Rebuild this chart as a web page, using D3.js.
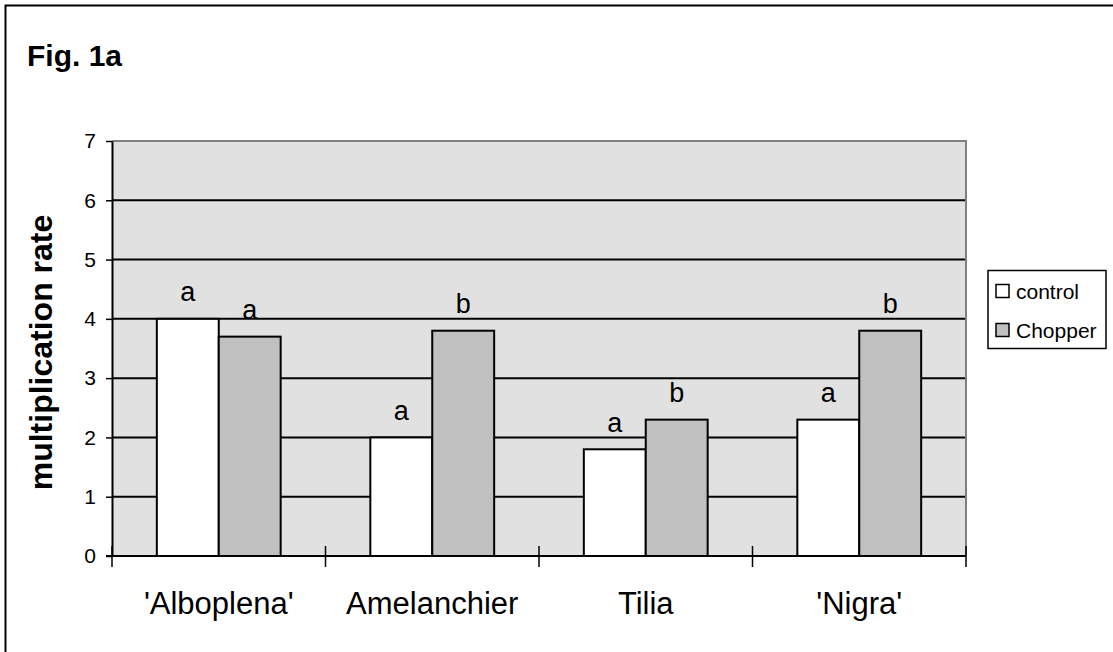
<!DOCTYPE html>
<html>
<head>
<meta charset="utf-8">
<script src="https://cdn.jsdelivr.net/npm/d3@7"></script>
<style>
  html, body { margin: 0; padding: 0; background: #fff; }
  svg { display: block; font-family: "Liberation Sans", Arial, sans-serif; }
</style>
</head>
<body>
<svg id="chart" width="1113" height="652"></svg>
<script>
const categories = ["'Alboplena'", "Amelanchier", "Tilia", "'Nigra'"];
const seriesNames = ["control", "Chopper"];
const controlValues = [4.0, 2.0, 1.8, 2.3];
const chopperValues = [3.7, 3.8, 2.3, 3.8];
const controlLetters = ["a", "a", "a", "a"];
const chopperLetters = ["a", "b", "b", "b"];
const yTicks = [0, 1, 2, 3, 4, 5, 6, 7];

(function () {
const svg = d3.select("#chart");
const pL = 112, pR = 966, pT = 141, pB = 556;

// outer frame
svg.append("rect").attr("x", 5.5).attr("y", 5.5).attr("width", 1200).attr("height", 700)
  .attr("fill", "#fff").attr("stroke", "#000").attr("stroke-width", 2);

svg.append("text").attr("x", 27).attr("y", 66).attr("font-size", 30).attr("font-weight", "bold")
  .attr("fill", "#000").text("Fig. 1a");

const x0 = d3.scaleBand().domain(categories).range([pL, pR]).padding(0);
const barW = x0.bandwidth() * 0.29;
const x1 = d3.scaleBand().domain(seriesNames).range([0, barW * 2]).padding(0);
const y = d3.scaleLinear().domain([0, 7]).range([pB, pT]);

// plot background
svg.append("rect").attr("x", pL).attr("y", pT).attr("width", pR - pL).attr("height", pB - pT)
  .attr("fill", "#e1e1e1");

// gridlines
svg.append("g").selectAll("line").data(yTicks.filter(d => d > 0 && d < 7)).join("line")
  .attr("x1", pL).attr("x2", pR).attr("y1", d => y(d)).attr("y2", d => y(d))
  .attr("stroke", "#000").attr("stroke-width", 2);

// top and right border (gray)
svg.append("line").attr("x1", pL).attr("x2", pR + 1).attr("y1", y(7)).attr("y2", y(7))
  .attr("stroke", "#808080").attr("stroke-width", 2);
svg.append("line").attr("x1", pR).attr("x2", pR).attr("y1", y(7)).attr("y2", pB)
  .attr("stroke", "#808080").attr("stroke-width", 2);

// bars
const rows = categories.map((c, i) => ({
  cat: c,
  vals: [
    {s: "control", v: controlValues[i], l: controlLetters[i], fill: "#ffffff"},
    {s: "Chopper", v: chopperValues[i], l: chopperLetters[i], fill: "#c0c0c0"}
  ]
}));
const groups = svg.append("g").selectAll("g").data(rows).join("g")
  .attr("transform", d => `translate(${x0(d.cat) + x0.bandwidth() / 2 - barW},0)`);
groups.selectAll("rect").data(d => d.vals).join("rect")
  .attr("x", d => x1(d.s)).attr("width", x1.bandwidth())
  .attr("y", d => y(d.v)).attr("height", d => y(0) - y(d.v))
  .attr("fill", d => d.fill).attr("stroke", "#000").attr("stroke-width", 2);
groups.selectAll("text").data(d => d.vals).join("text")
  .attr("x", d => x1(d.s) + x1.bandwidth() / 2).attr("y", d => y(d.v) - 17.5)
  .attr("text-anchor", "middle").attr("font-size", 27).attr("fill", "#000").text(d => d.l);

// y axis
const yAxis = svg.append("g").attr("transform", `translate(${pL},0)`)
  .call(d3.axisLeft(y).tickValues(yTicks).tickSize(6).tickSizeOuter(0).tickPadding(10).tickFormat(d3.format("d")));
yAxis.select(".domain").attr("stroke", "#000").attr("stroke-width", 2);
yAxis.selectAll(".tick line").attr("stroke", "#000").attr("stroke-width", 1.5);
yAxis.selectAll(".tick text").attr("font-size", 21).attr("fill", "#000")
  .attr("font-family", "'Liberation Sans', Arial, sans-serif");

// x axis
svg.append("line").attr("x1", pL - 6).attr("x2", pR).attr("y1", pB).attr("y2", pB)
  .attr("stroke", "#000").attr("stroke-width", 2);
const boundaries = categories.map(c => x0(c)).concat([pR]);
svg.append("g").selectAll("line").data(boundaries).join("line")
  .attr("x1", d => d).attr("x2", d => d).attr("y1", pB - 10).attr("y2", pB + 11)
  .attr("stroke", "#000").attr("stroke-width", 1.5);
svg.append("g").selectAll("text").data(categories).join("text")
  .attr("x", d => x0(d) + x0.bandwidth() / 2).attr("y", 614)
  .attr("text-anchor", "middle").attr("font-size", 31).attr("fill", "#000").text(d => d);

// y title
svg.append("text").attr("transform", `translate(52,${(215 + 490) / 2}) rotate(-90)`)
  .attr("text-anchor", "middle").attr("font-size", 32).attr("font-weight", "bold")
  .attr("fill", "#000").text("multiplication rate");

// legend
const lg = svg.append("g");
lg.append("rect").attr("x", 988).attr("y", 270.5).attr("width", 118).attr("height", 78)
  .attr("fill", "#fff").attr("stroke", "#000").attr("stroke-width", 1.5);
const legendItems = [{s: seriesNames[0], fill: "#ffffff"}, {s: seriesNames[1], fill: "#c0c0c0"}];
const li = lg.selectAll("g").data(legendItems).join("g")
  .attr("transform", (d, i) => `translate(996,${284.5 + i * 39})`);
li.append("rect").attr("width", 13).attr("height", 13).attr("fill", d => d.fill)
  .attr("stroke", "#000").attr("stroke-width", 1.5);
li.append("text").attr("x", 20).attr("y", 14).attr("font-size", 21).attr("fill", "#000").text(d => d.s);
})();
</script>
</body>
</html>
